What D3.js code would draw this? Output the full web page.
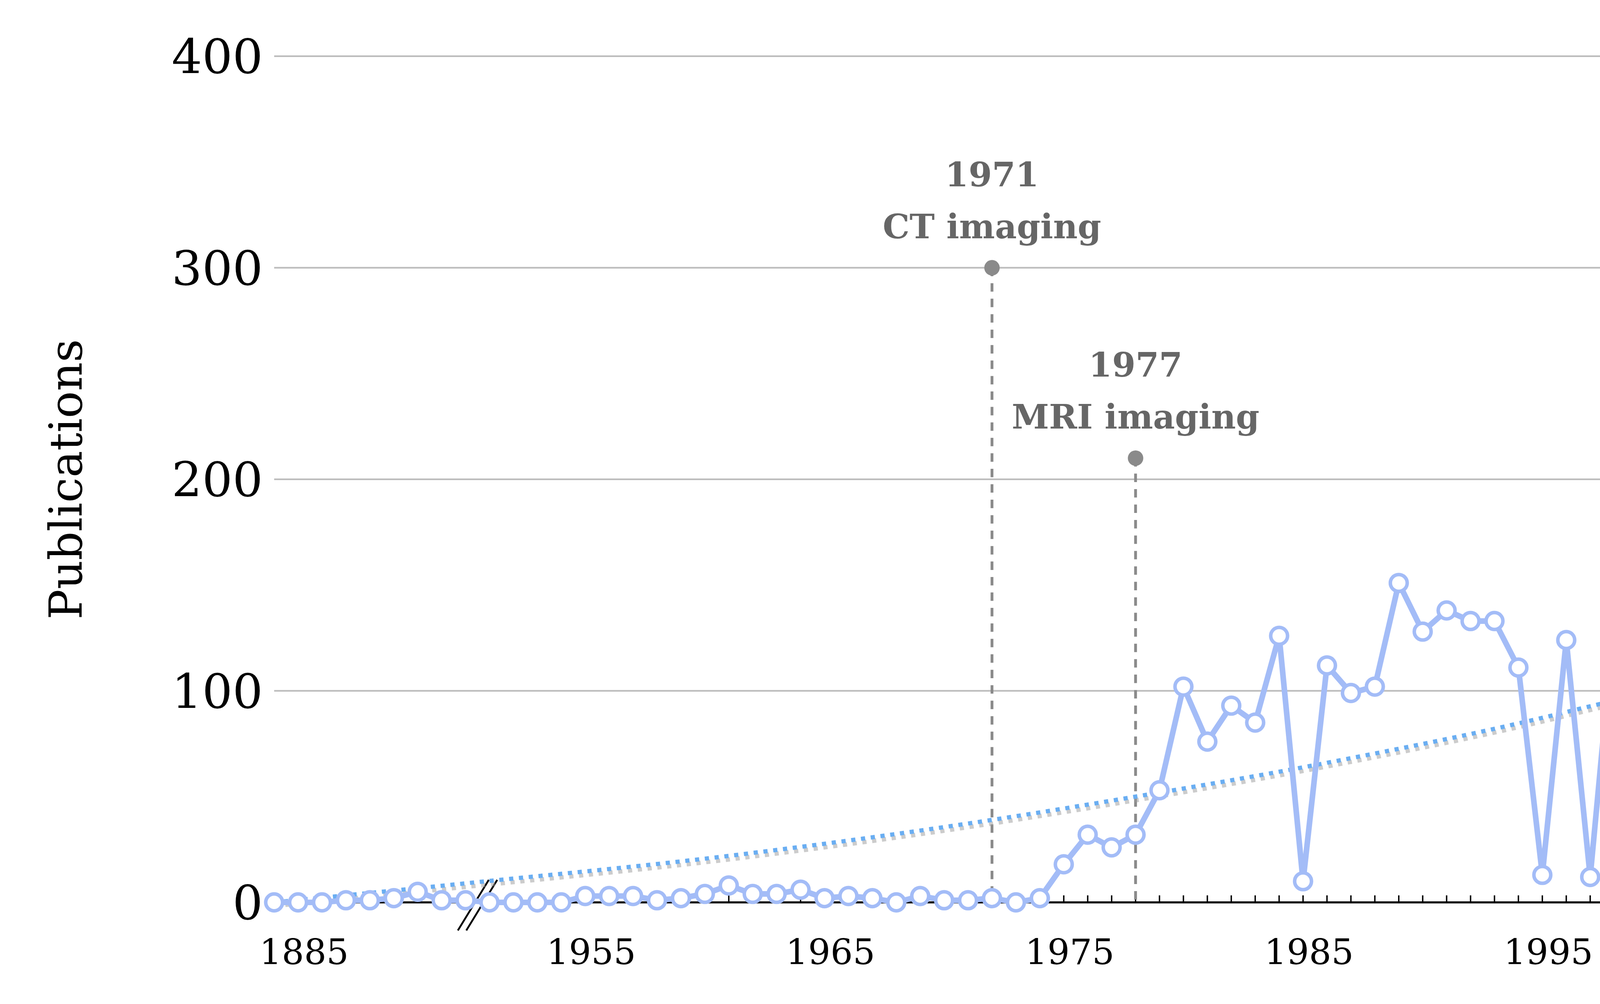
<!DOCTYPE html>
<html>
<head>
<meta charset="utf-8">
<script src="https://cdn.jsdelivr.net/npm/d3@7"></script>
<style>
  html, body { margin: 0; padding: 0; background: #fff; }
  svg { display: block; }
</style>
</head>
<body>
<svg id="chart" width="5642" height="2570" viewBox="0 0 1568 714.3"></svg>
<script>
// early years (before the axis break) and later years
const earlyYears = [1883, 1884, 1885, 1886, 1887, 1888, 1889, 1890, 1891];
const earlyValues = [0, 0, 0, 1, 1, 2, 5, 1, 1];
const lateYears = d3.range(1950, 2021);
const lateValues = [0, 0, 0, 0, 3, 3, 3, 1, 2, 4, 8, 4, 4, 6, 2, 3, 2, 0, 3, 1,
  1, 2, 0, 2, 18, 32, 26, 32, 53, 102, 76, 93, 85, 126, 10, 112, 99, 102, 151, 128,
  138, 133, 133, 111, 13, 124, 12, 133, 157, 157, 176, 173, 183, 199, 206, 20, 17, 177, 171, 1,
  241, 207, 250, 282, 308, 302, 243, 258, 246, 236, 195];
// trend line read at a few years
const trendYears = [1883, 1891, 1960, 1971, 1977, 1985, 1995, 2000, 2005, 2010, 2015, 2017, 2019, 2020];
const trendValues = [0, 9, 22, 39, 50, 66, 90, 105, 130, 163, 215, 256, 305, 368];
const yTicks = [0, 100, 200, 300, 400];
const xTickLabels = [1885, 1955, 1965, 1975, 1985, 1995, 2005, 2015];
const events = [
  { year: 1971, label: "CT imaging", top: 300 },
  { year: 1977, label: "MRI imaging", top: 210 }
];

const years = earlyYears.concat(lateYears);
const values = earlyValues.concat(lateValues);
const data = years.map((y, i) => ({ year: y, value: values[i] }));

const svg = d3.select("#chart");
const plotLeft = 195, plotRight = 1540, plotTop = 40, plotBottom = 642;
const serif = "'DejaVu Serif', 'Liberation Serif', serif";

const x = d3.scalePoint().domain(years).range([plotLeft, plotRight]);
const y = d3.scaleLinear().domain([0, 400]).range([plotBottom, plotTop]);
const step = x.step();

// gridlines
svg.append("g").selectAll("line")
  .data(yTicks.filter(d => d > 0))
  .enter().append("line")
  .attr("x1", plotLeft).attr("x2", plotRight)
  .attr("y1", d => y(d)).attr("y2", d => y(d))
  .attr("stroke", "#bdbdbd").attr("stroke-width", 1.2);

svg.append("g").selectAll("text")
  .data(yTicks)
  .enter().append("text")
  .attr("x", 187).attr("y", d => y(d) + 12)
  .attr("text-anchor", "end")
  .attr("font-family", serif).attr("font-size", 34)
  .text(d => d);

svg.append("text")
  .attr("transform", `translate(58,${(plotTop + plotBottom) / 2}) rotate(-90)`)
  .attr("text-anchor", "middle")
  .attr("font-family", serif).attr("font-size", 32)
  .text("Publications");

// x axis
svg.append("line")
  .attr("x1", plotLeft).attr("x2", plotRight)
  .attr("y1", plotBottom).attr("y2", plotBottom)
  .attr("stroke", "#000").attr("stroke-width", 1.5);
svg.append("g").selectAll("line")
  .data(years)
  .enter().append("line")
  .attr("x1", d => x(d)).attr("x2", d => x(d))
  .attr("y1", plotBottom).attr("y2", plotBottom - 5)
  .attr("stroke", "#000").attr("stroke-width", 1);
svg.append("g").selectAll("text")
  .data(xTickLabels)
  .enter().append("text")
  .attr("x", d => x(d) - step * 0.75)
  .attr("y", 686)
  .attr("text-anchor", "middle")
  .attr("font-family", serif).attr("font-size", 25)
  .text(d => d);

// axis break marks
const bx = (x(1891) + x(1950)) / 2;
[-3, 3].forEach(o => {
  svg.append("line")
    .attr("x1", bx + o - 11).attr("y1", plotBottom + 20)
    .attr("x2", bx + o + 11).attr("y2", plotBottom - 16)
    .attr("stroke", "#000").attr("stroke-width", 1.3);
});

// event annotations
events.forEach(e => {
  const ex = x(e.year);
  svg.append("line")
    .attr("x1", ex).attr("x2", ex)
    .attr("y1", y(e.top)).attr("y2", plotBottom)
    .attr("stroke", "#8a8a8a").attr("stroke-width", 2)
    .attr("stroke-dasharray", "6,5");
  svg.append("circle")
    .attr("cx", ex).attr("cy", y(e.top)).attr("r", 5.5)
    .attr("fill", "#8a8a8a");
  svg.append("text")
    .attr("x", ex).attr("y", y(e.top) - 58)
    .attr("text-anchor", "middle").attr("font-weight", "bold")
    .attr("font-family", serif).attr("font-size", 24).attr("fill", "#666")
    .text(e.year);
  svg.append("text")
    .attr("x", ex).attr("y", y(e.top) - 21)
    .attr("text-anchor", "middle").attr("font-weight", "bold")
    .attr("font-family", serif).attr("font-size", 24).attr("fill", "#666")
    .text(e.label);
});

// trend line with its shadow
const trend = trendYears.map((t, i) => ({ year: t, value: trendValues[i] }));
const trendLine = d3.line()
  .x(d => x(d.year)).y(d => y(d.value))
  .curve(d3.curveMonotoneX);
svg.append("path").datum(trend)
  .attr("d", trendLine).attr("transform", "translate(1,2.5)")
  .attr("fill", "none").attr("stroke", "#999").attr("stroke-opacity", 0.5)
  .attr("stroke-width", 3).attr("stroke-dasharray", "3,4");
svg.append("path").datum(trend)
  .attr("d", trendLine)
  .attr("fill", "none").attr("stroke", "#6aaef2")
  .attr("stroke-width", 3).attr("stroke-dasharray", "3,4");

// data series
const line = d3.line().x(d => x(d.year)).y(d => y(d.value));
svg.append("path").datum(data)
  .attr("d", line)
  .attr("fill", "none").attr("stroke", "#a3bcf7")
  .attr("stroke-width", 4).attr("stroke-linejoin", "round");
svg.append("g").selectAll("circle")
  .data(data)
  .enter().append("circle")
  .attr("cx", d => x(d.year)).attr("cy", d => y(d.value))
  .attr("r", 6)
  .attr("fill", "#fff").attr("stroke", "#a3bcf7").attr("stroke-width", 2.5);
</script>
</body>
</html>
